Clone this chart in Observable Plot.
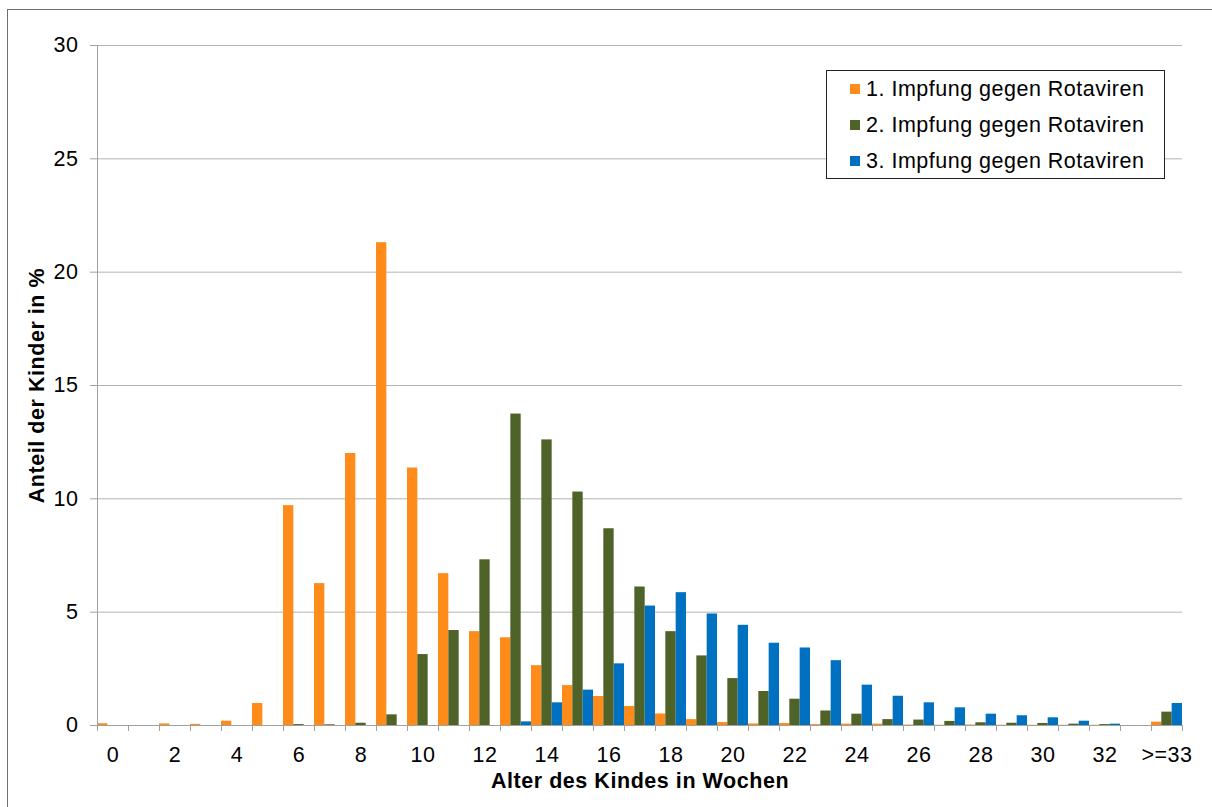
<!DOCTYPE html>
<html>
<head>
<meta charset="utf-8">
<script src="https://cdn.jsdelivr.net/npm/d3@7"></script>
<script src="https://cdn.jsdelivr.net/npm/@observablehq/plot@0.6"></script>
<style>
  html, body { margin: 0; padding: 0; background: #fff; }
  #wrap { position: relative; width: 1212px; height: 807px; overflow: hidden; font-family: "Liberation Sans", Arial, sans-serif; }
  #frame { position: absolute; left: 7px; top: 9px; width: 1230px; height: 830px; border-left: 1px solid #6e6e6e; border-top: 1px solid #6e6e6e; }
  #chart { position: absolute; left: 0; top: 0; }
  #chart text { letter-spacing: 0.55px; }
  #legend { position: absolute; left: 826px; top: 70px; width: 337px; height: 107px; border: 1px solid #222; background: #fff; box-sizing: content-box; }
  .item { position: absolute; left: 23px; height: 24px; display: flex; align-items: center; font-size: 21.5px; letter-spacing: 0.5px; color: #000; white-space: nowrap; }
  .sw { width: 10px; height: 10px; margin-right: 6px; }
</style>
</head>
<body>
<div id="wrap">
  <div id="frame"></div>
  <div id="chart"></div>
  <div id="legend"></div>
</div>
<script>
const categories = ["0","1","2","3","4","5","6","7","8","9","10","11","12","13","14","15","16","17","18","19","20","21","22","23","24","25","26","27","28","29","30","31","32","33",">=33"];
const xTickLabels = ["0","2","4","6","8","10","12","14","16","18","20","22","24","26","28","30","32",">=33"];
const yTicks = [0, 5, 10, 15, 20, 25, 30];
const seriesNames = ["1. Impfung gegen Rotaviren", "2. Impfung gegen Rotaviren", "3. Impfung gegen Rotaviren"];
const seriesColors = ["#ff8c1a", "#4f6228", "#0070c0"];
const dose1 = [0.08,0,0.07,0.05,0.19,0.97,9.7,6.26,12.0,21.3,11.36,6.7,4.14,3.87,2.64,1.76,1.28,0.84,0.51,0.26,0.13,0.07,0.09,0.04,0.06,0.06,0.02,0.01,0.02,0.01,0.01,0.01,0.01,0,0.15];
const dose2 = [0,0,0,0,0,0,0.04,0.03,0.1,0.47,3.13,4.19,7.31,13.74,12.6,10.3,8.68,6.11,4.14,3.07,2.07,1.5,1.16,0.64,0.5,0.26,0.24,0.18,0.12,0.1,0.09,0.06,0.04,0,0.59];
const dose3 = [0,0,0,0,0,0,0,0,0,0,0,0,0,0.16,1.0,1.56,2.72,5.27,5.86,4.92,4.42,3.63,3.42,2.86,1.78,1.29,1.0,0.78,0.5,0.43,0.34,0.19,0.06,0,0.97];
const xTitle = "Alter des Kindes in Wochen";
const yTitle = "Anteil der Kinder in %";

const W = 1212, H = 807;
const mL = 97, mR = 30, mT = 45, mB = 82;
const bw = (W - mL - mR) / categories.length;
const allSeries = [dose1, dose2, dose3];
const gridColor = "#b3b3b3";
const axisColor = "#a0a0a0";

const barMarks = allSeries.map((vals, s) =>
  Plot.barY(categories.map((c, i) => ({cat: c, value: vals[i]})), {
    x: "cat", y: "value", fill: seriesColors[s],
    insetLeft: s * bw / 3, insetRight: (2 - s) * bw / 3
  })
);

const chart = Plot.plot({
  width: W, height: H,
  marginLeft: mL, marginRight: mR, marginTop: mT, marginBottom: mB,
  style: {fontFamily: "'Liberation Sans', Arial, sans-serif", fontSize: "21.5px", color: "#000", background: "transparent"},
  x: {domain: categories, padding: 0, align: 0.5},
  y: {domain: [0, 30]},
  marks: [
    Plot.gridY(yTicks, {stroke: gridColor, strokeOpacity: 1}),
    ...barMarks,
    Plot.ruleY([0], {stroke: axisColor, strokeWidth: 1}),
    Plot.ruleX([categories[0]], {dx: -bw / 2, y1: 0, y2: 30, stroke: axisColor}),
    Plot.axisY(yTicks, {tickSize: 7, tickPadding: 12, label: null, stroke: axisColor, fill: "#000"}),
    Plot.axisX(categories, {tickSize: 6, tickFormat: () => "", dx: -bw / 2, label: null, stroke: axisColor}),
    Plot.axisX([categories[categories.length - 1]], {tickSize: 6, tickFormat: () => "", dx: bw / 2, label: null, stroke: axisColor}),
    Plot.axisX(xTickLabels, {tickSize: 0, tickPadding: 21, label: null, fill: "#000"}),
    Plot.text([xTitle], {frameAnchor: "bottom", dy: 56, text: d => d, fontWeight: "bold", fontSize: 21.5, textAnchor: "middle", lineAnchor: "middle", fill: "#000"}),
    Plot.text([yTitle], {frameAnchor: "left", dx: -60, rotate: -90, text: d => d, fontWeight: "bold", fontSize: 21.5, textAnchor: "middle", lineAnchor: "middle", fill: "#000"})
  ]
});
document.getElementById("chart").appendChild(chart);

const legend = document.getElementById("legend");
const rowTops = [6, 42, 78];
seriesNames.forEach((name, s) => {
  const item = document.createElement("div");
  item.className = "item";
  item.style.top = rowTops[s] + "px";
  const sw = document.createElement("span");
  sw.className = "sw";
  sw.style.background = seriesColors[s];
  const t = document.createElement("span");
  t.textContent = name;
  item.appendChild(sw);
  item.appendChild(t);
  legend.appendChild(item);
});
</script>
</body>
</html>
